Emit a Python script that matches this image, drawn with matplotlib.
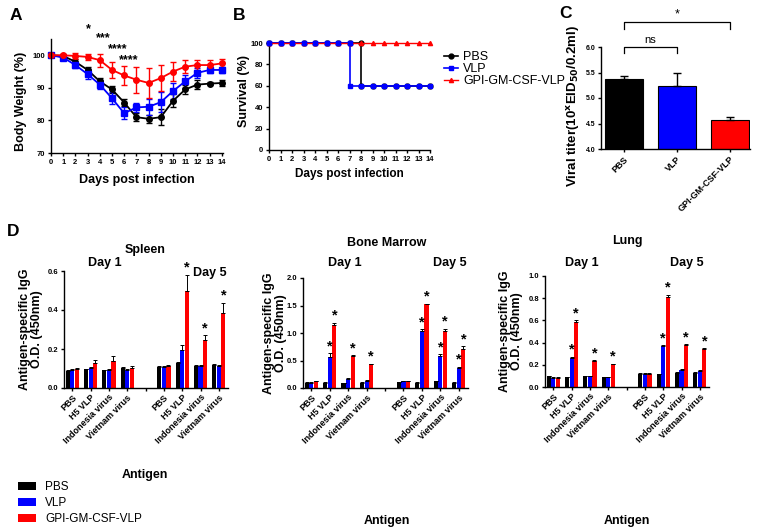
import matplotlib
matplotlib.use('Agg')
import matplotlib.pyplot as plt
from matplotlib.patches import Patch
from matplotlib.lines import Line2D
import numpy as np

plt.rcParams['font.family'] = ['Liberation Sans', 'DejaVu Sans']
plt.rcParams['font.weight'] = 'bold'
plt.rcParams['axes.labelweight'] = 'bold'
plt.rcParams['axes.linewidth'] = 1.0
plt.rcParams['xtick.major.width'] = 1.0
plt.rcParams['ytick.major.width'] = 1.0
plt.rcParams['xtick.major.size'] = 2.5
plt.rcParams['ytick.major.size'] = 2.5

W, H = 763, 532

# ---- data ----
groups = ['PBS', 'VLP', 'GPI-GM-CSF-VLP']
colors = ['#000000', '#0000ff', '#ff0000']

# A: body weight
days = list(range(15))
pbs_weight = [100, 99.8, 98, 95.5, 92, 89.5, 85.5, 81, 80.5, 81, 86, 89.5, 91, 91.3, 91.5]
pbs_weight_err = [0.4, 0.5, 0.8, 1.0, 1.0, 1.0, 1.2, 1.2, 1.2, 2.5, 2.0, 1.5, 1.5, 0.5, 1.0]
vlp_weight = [100, 99.3, 97, 94.2, 91, 86.8, 82.2, 84, 84.2, 85.6, 89, 92, 94.6, 95.5, 95.5]
vlp_weight_err = [0.3, 0.5, 1.0, 1.5, 1.5, 1.8, 1.8, 1.5, 2.5, 3.0, 2.5, 2.0, 1.5, 1.0, 1.0]
gpi_weight = [100, 100, 99.8, 99.5, 98.5, 95.5, 93.8, 92.5, 91.5, 93, 95, 96.5, 97, 97, 97.5]
gpi_weight_err = [0.4, 0.5, 1.0, 1.0, 2.0, 2.5, 3.0, 4.0, 4.5, 4.0, 3.0, 2.0, 1.5, 1.5, 1.5]
weight_stars = ['*', '***', '****', '****']
weight_star_x = [3.1, 4.3, 5.5, 6.35]
weight_star_y = [107.9, 105.2, 101.8, 98.5]

# B: survival (Kaplan-Meier steps)
pbs_surv_days = [0, 1, 2, 3, 4, 5, 6, 7, 8, 8, 9, 10, 11, 12, 13, 14]
pbs_surv = [100, 100, 100, 100, 100, 100, 100, 100, 100, 60, 60, 60, 60, 60, 60, 60]
vlp_surv_days = [0, 1, 2, 3, 4, 5, 6, 7, 7, 8, 9, 10, 11, 12, 13, 14]
vlp_surv = [100, 100, 100, 100, 100, 100, 100, 100, 60, 60, 60, 60, 60, 60, 60, 60]
gpi_surv_days = list(range(15))
gpi_surv = [100] * 15

# C: viral titer
titer = [5.37, 5.23, 4.57]
titer_err = [0.06, 0.27, 0.06]

# D: antigen-specific IgG (rows: antigen, cols: PBS / VLP / GPI-GM-CSF-VLP)
antigens = ['PBS', 'H5 VLP', 'Indonesia virus', 'Vietnam virus']
spleen_d1 = [[0.088, 0.093, 0.097], [0.095, 0.103, 0.130], [0.090, 0.092, 0.140], [0.105, 0.092, 0.105]]
spleen_d1_err = [[0.003, 0.003, 0.004], [0.004, 0.005, 0.012], [0.003, 0.003, 0.022], [0.003, 0.003, 0.006]]
spleen_d5 = [[0.110, 0.110, 0.115], [0.130, 0.195, 0.495], [0.113, 0.115, 0.248], [0.120, 0.113, 0.383]]
spleen_d5_err = [[0.005, 0.005, 0.005], [0.004, 0.025, 0.085], [0.003, 0.004, 0.022], [0.004, 0.003, 0.055]]
spleen_stars = [(5, 1, 2), (5, 2, 2), (5, 3, 2)]

marrow_d1 = [[0.10, 0.10, 0.12], [0.10, 0.57, 1.14], [0.09, 0.17, 0.59], [0.10, 0.13, 0.43]]
marrow_d1_err = [[0.005, 0.005, 0.005], [0.005, 0.06, 0.045], [0.005, 0.02, 0.01], [0.005, 0.01, 0.01]]
marrow_d5 = [[0.11, 0.12, 0.12], [0.10, 1.03, 1.52], [0.12, 0.58, 1.03], [0.10, 0.37, 0.71]]
marrow_d5_err = [[0.005, 0.005, 0.005], [0.005, 0.04, 0.01], [0.005, 0.03, 0.05], [0.005, 0.02, 0.05]]
marrow_stars = [(1, 1, 1), (1, 1, 2), (1, 2, 2), (1, 3, 2),
                (5, 1, 1), (5, 1, 2), (5, 2, 1), (5, 2, 2), (5, 3, 1), (5, 3, 2)]

lung_d1 = [[0.095, 0.085, 0.085], [0.090, 0.265, 0.590], [0.095, 0.095, 0.235], [0.090, 0.090, 0.205]]
lung_d1_err = [[0.003, 0.003, 0.003], [0.003, 0.008, 0.010], [0.003, 0.003, 0.005], [0.003, 0.003, 0.005]]
lung_d5 = [[0.120, 0.120, 0.120], [0.115, 0.370, 0.815], [0.130, 0.155, 0.380], [0.130, 0.145, 0.340]]
lung_d5_err = [[0.003, 0.003, 0.003], [0.003, 0.006, 0.015], [0.003, 0.006, 0.006], [0.003, 0.006, 0.008]]
lung_stars = [(1, 1, 1), (1, 1, 2), (1, 2, 2), (1, 3, 2),
              (5, 1, 1), (5, 1, 2), (5, 2, 2), (5, 3, 2)]


def box(left, top, right, bottom):
    """pixel box -> figure fraction rect"""
    return [left / W, 1 - bottom / H, (right - left) / W, (bottom - top) / H]


def ftext(x, y, s, **kw):
    fig.text(x / W, 1 - y / H, s, ha='center', va='center', **kw)


def style(ax):
    ax.spines['top'].set_visible(False)
    ax.spines['right'].set_visible(False)
    ax.tick_params(labelsize=5.5, pad=1.5)


fig = plt.figure(figsize=(W / 100, H / 100), dpi=100)

# ---- A ----
axA = fig.add_axes(box(51, 39, 223, 153))
style(axA)
series = [(pbs_weight, pbs_weight_err, 'o'), (vlp_weight, vlp_weight_err, 's'), (gpi_weight, gpi_weight_err, 'o')]
for (vals, err, mk), c in zip(series, colors):
    axA.errorbar(days, vals, yerr=err, color=c, marker=mk, ms=4, lw=1.3,
                 capsize=2.2, elinewidth=1.0, capthick=1.0, clip_on=False)
for s, x, y in zip(weight_stars, weight_star_x, weight_star_y):
    axA.text(x, y, s, ha='center', va='center', fontsize=9, clip_on=False)
axA.set_xlim(0, 14.1)
axA.set_ylim(70, 105)
axA.set_xticks(days)
axA.set_yticks([70, 80, 90, 100])
axA.spines['left'].set_bounds(70, 105)
axA.set_ylabel('Body Weight (%)', fontsize=9)
axA.set_xlabel('Days post infection', fontsize=9)
axA.yaxis.set_label_coords(-0.14, 0.45)
axA.xaxis.set_label_coords(0.5, -0.18)

# ---- B ----
axB = fig.add_axes(box(269, 43, 430, 150))
style(axB)
axB.plot(pbs_surv_days, pbs_surv, color=colors[0], marker='o', ms=3.5, lw=1.2, clip_on=False, zorder=3)
axB.plot(vlp_surv_days, vlp_surv, color=colors[1], marker='s', ms=3.5, lw=1.2, clip_on=False, zorder=4)
axB.plot(gpi_surv_days, gpi_surv, color=colors[2], marker='^', ms=3, lw=1.0, clip_on=False, zorder=5)
axB.plot(vlp_surv_days[:8], vlp_surv[:8], ls='none', color=colors[1], marker='s', ms=3.5, clip_on=False, zorder=6)
axB.set_xlim(0, 14)
axB.set_ylim(0, 100)
axB.set_xticks(days)
axB.set_yticks([0, 20, 40, 60, 80, 100])
axB.set_ylabel('Survival (%)', fontsize=9)
axB.set_xlabel('Days post infection', fontsize=8.5)
axB.yaxis.set_label_coords(-0.118, 0.55)
axB.xaxis.set_label_coords(0.5, -0.17)
handles = [Line2D([], [], color=colors[0], marker='o', ms=3.5, lw=1.2),
           Line2D([], [], color=colors[1], marker='s', ms=3.5, lw=1.2),
           Line2D([], [], color=colors[2], marker='^', ms=3, lw=1.0)]
fig.legend(handles, groups, loc='upper left', bbox_to_anchor=(438 / W, 1 - 45 / H), frameon=False,
           prop={'weight': 'normal', 'size': 9}, handlelength=1.1, handletextpad=0.4,
           labelspacing=0.0, borderpad=0)

# ---- C ----
axC = fig.add_axes(box(601, 47, 750, 149))
style(axC)
axC.tick_params(axis='y', labelsize=5)
xc = np.arange(len(groups))
axC.bar(xc, titer, width=0.72, color=colors, edgecolor='black', lw=0.8)
axC.errorbar(xc, titer, yerr=[[0] * 3, titer_err], fmt='none', ecolor='black',
             capsize=3, elinewidth=1.0, capthick=1.0)
axC.set_xlim(-0.43, 2.38)
axC.set_ylim(4.0, 6.0)
axC.set_yticks([4.0, 4.5, 5.0, 5.5, 6.0])
axC.set_xticks(xc)
axC.set_xticklabels(groups, rotation=45, ha='right', rotation_mode='anchor', fontsize=6.5)
axC.set_ylabel('Viral titer(10$^\\mathbf{x}$EID$_\\mathbf{50}$/0.2ml)', fontsize=9.5)
axC.yaxis.set_label_coords(-0.125, 0.42)
# significance brackets
for x0, x1, y, yl, lab in [(0, 2, 6.49, 6.36, '*'), (0, 1, 6.0, 5.88, 'ns')]:
    axC.plot([x0, x0, x1, x1], [yl, y, y, yl], color='black', lw=0.9, clip_on=False)
    axC.text((x0 + x1) / 2, y + 0.04, lab, ha='center', va='bottom', fontsize=8 if lab == 'ns' else 9,
             fontweight='normal', clip_on=False)

# ---- D ----
def igg_panel(rect, d1, d1_err, d5, d5_err, stars, ylim, yticks, title, title_xy,
              day1_xy, day5_xy, label_x, antigen_y):
    ax = fig.add_axes(rect)
    style(ax)
    bw = 0.25
    offs = [-bw, 0, bw]
    for start, vals, errs in [(0, d1, d1_err), (5, d5, d5_err)]:
        for gi in range(3):
            xs = [start + ai + offs[gi] for ai in range(len(antigens))]
            ys = [vals[ai][gi] for ai in range(len(antigens))]
            es = [errs[ai][gi] for ai in range(len(antigens))]
            ax.bar(xs, ys, width=bw * 0.9, color=colors[gi], lw=0)
            ax.errorbar(xs, ys, yerr=[[0] * len(es), es], fmt='none', ecolor='black',
                        elinewidth=0.7, capsize=1.2, capthick=0.7)
    for start, ai, gi in stars:
        if start == 5:
            vals, errs = d5, d5_err
            x = 5 + ai + offs[gi]
        else:
            vals, errs = d1, d1_err
            x = ai + offs[gi]
        ax.text(x, vals[ai][gi] + errs[ai][gi], '*', ha='center', va='bottom',
                fontsize=10.5, clip_on=False)
    ax.set_xlim(-0.45, 8.5)
    ax.set_ylim(*ylim)
    ax.set_yticks(yticks)
    ax.set_xticks(range(9))
    ax.set_xticklabels(antigens + [''] + antigens, rotation=45, ha='right',
                       rotation_mode='anchor', fontsize=6.5)
    ax.tick_params(axis='x', pad=1)
    ax.set_ylabel('Antigen-specific IgG\nO.D. (450nm)', fontsize=9, linespacing=1.0)
    ax.yaxis.set_label_coords(label_x, 0.5)
    ftext(*title_xy, title, fontsize=9)
    ftext(*day1_xy, 'Day 1', fontsize=9)
    ftext(*day5_xy, 'Day 5', fontsize=9)
    ftext(title_xy[0], antigen_y, 'Antigen', fontsize=9)
    return ax


igg_panel(box(64, 271, 228, 388), spleen_d1, spleen_d1_err, spleen_d5, spleen_d5_err, spleen_stars,
          (0, 0.6), [0.0, 0.2, 0.4, 0.6], 'Spleen', (145, 250), (105, 263), (210, 273), -0.128, 475)
igg_panel(box(303, 278, 468, 388), marrow_d1, marrow_d1_err, marrow_d5, marrow_d5_err, marrow_stars,
          (0, 2.0), [0.0, 0.5, 1.0, 1.5, 2.0], 'Bone Marrow', (387, 243), (345, 263), (450, 263), -0.097, 521)
igg_panel(box(545, 276, 709, 387), lung_d1, lung_d1_err, lung_d5, lung_d5_err, lung_stars,
          (0, 1.0), [0.0, 0.2, 0.4, 0.6, 0.8, 1.0], 'Lung', (627, 241), (582, 263), (687, 263), -0.134, 521)

# legend for D
patches = [Patch(facecolor=c, edgecolor='none') for c in colors]
fig.legend(patches, groups, loc='upper left', bbox_to_anchor=(12 / W, 1 - 475 / H), frameon=False,
           prop={'weight': 'normal', 'size': 8.5}, handlelength=1.5, handleheight=0.7,
           handletextpad=0.8, labelspacing=0.35, borderpad=0)

# panel letters
ftext(16, 15, 'A', fontsize=12.5)
ftext(239, 15, 'B', fontsize=12.5)
ftext(565, 14, 'C', fontsize=12.5)
ftext(13, 231, 'D', fontsize=12.5)

fig.savefig('out.png', dpi=100)
